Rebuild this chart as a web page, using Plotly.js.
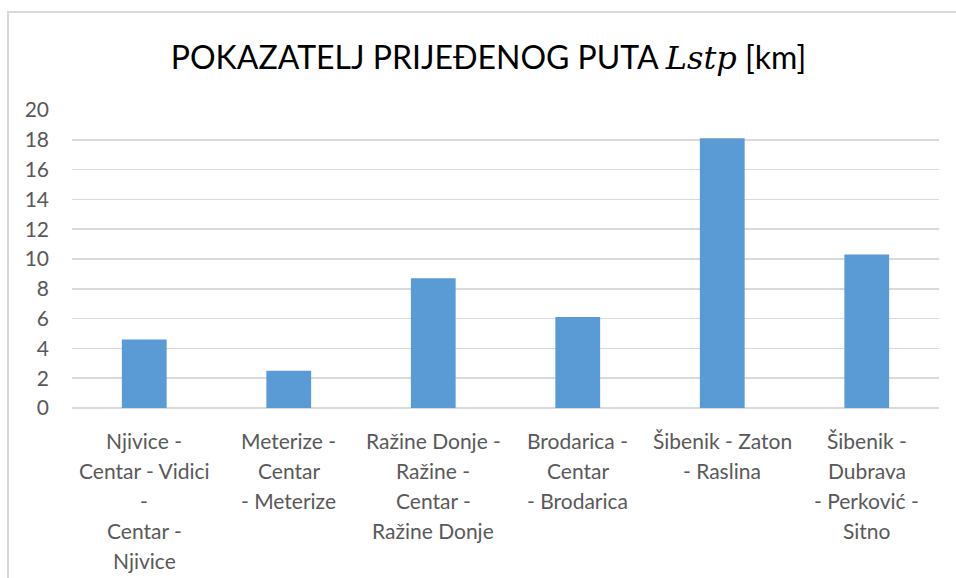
<!DOCTYPE html>
<html>
<head>
<meta charset="utf-8">
<script src="https://cdn.plot.ly/plotly-3.0.1.min.js"></script>
<style>
html,body{margin:0;padding:0;background:#fff;}
#frame{position:absolute;left:7px;top:11px;width:1000px;height:700px;border-left:2px solid #d9d9d9;border-top:2px solid #d9d9d9;}
#chart{position:absolute;left:0;top:0;width:956px;height:578px;}
</style>
</head>
<body>
<div id="frame"></div>
<div id="chart"></div>
<script>
// Category labels, one array of lines per bar
const categoryLines = [
  ["Njivice -", "Centar - Vidici", "-", "Centar -", "Njivice"],
  ["Meterize -", "Centar", "- Meterize"],
  ["Ražine Donje -", "Ražine -", "Centar -", "Ražine Donje"],
  ["Brodarica -", "Centar", "- Brodarica"],
  ["Šibenik - Zaton", "- Raslina"],
  ["Šibenik -", "Dubrava", "- Perković -", "Sitno"]
];
const values = [4.6, 2.5, 8.7, 6.1, 18.1, 10.3];
const yTicks = [0, 2, 4, 6, 8, 10, 12, 14, 16, 18, 20];

const categories = categoryLines.map(l => l.join(" "));
const FONT = "Lato, 'Liberation Sans', sans-serif";
const TXT = "#595959";

const annotations = [];
categories.forEach((c, i) => {
  categoryLines[i].forEach((line, j) => {
    annotations.push({
      x: c, xref: "x", y: 0, yref: "paper",
      yanchor: "middle", xanchor: "center",
      yshift: -(32 + j * 30.2),
      text: line, showarrow: false,
      font: {family: FONT, size: 21, color: TXT}
    });
  });
});

const data = [{
  type: "bar",
  x: categories,
  y: values,
  marker: {color: "#5b9bd5"},
  hoverinfo: "skip"
}];

const layout = {
  width: 956, height: 578,
  margin: {l: 72, r: 17, t: 110, b: 170},
  paper_bgcolor: "rgba(0,0,0,0)",
  plot_bgcolor: "rgba(0,0,0,0)",
  bargap: 0.69,
  showlegend: false,
  title: {
    text: "POKAZATELJ PRIJEĐENOG PUTA <span style=\"font-family:'DejaVu Serif'\"><i>Lstp</i></span> [km]",
    font: {family: FONT, size: 32, color: "#000"},
    x: 488.5 / 956, xanchor: "center", xref: "container",
    y: 1 - 58 / 578, yref: "container", yanchor: "middle"
  },
  xaxis: {
    type: "category",
    showticklabels: false,
    showgrid: false, zeroline: false, showline: false, ticks: ""
  },
  yaxis: {
    range: [0, 20],
    tickvals: yTicks,
    ticktext: yTicks.map(String),
    showgrid: true, gridcolor: "#d9d9d9", gridwidth: 1.5,
    zeroline: true, zerolinecolor: "#d9d9d9", zerolinewidth: 1.5,
    showline: false, ticks: "",
    ticklabelstandoff: 22,
    tickfont: {family: FONT, size: 21, color: TXT}
  },
  annotations: annotations
};

Plotly.newPlot("chart", data, layout, {staticPlot: true, displayModeBar: false});
</script>
</body>
</html>
